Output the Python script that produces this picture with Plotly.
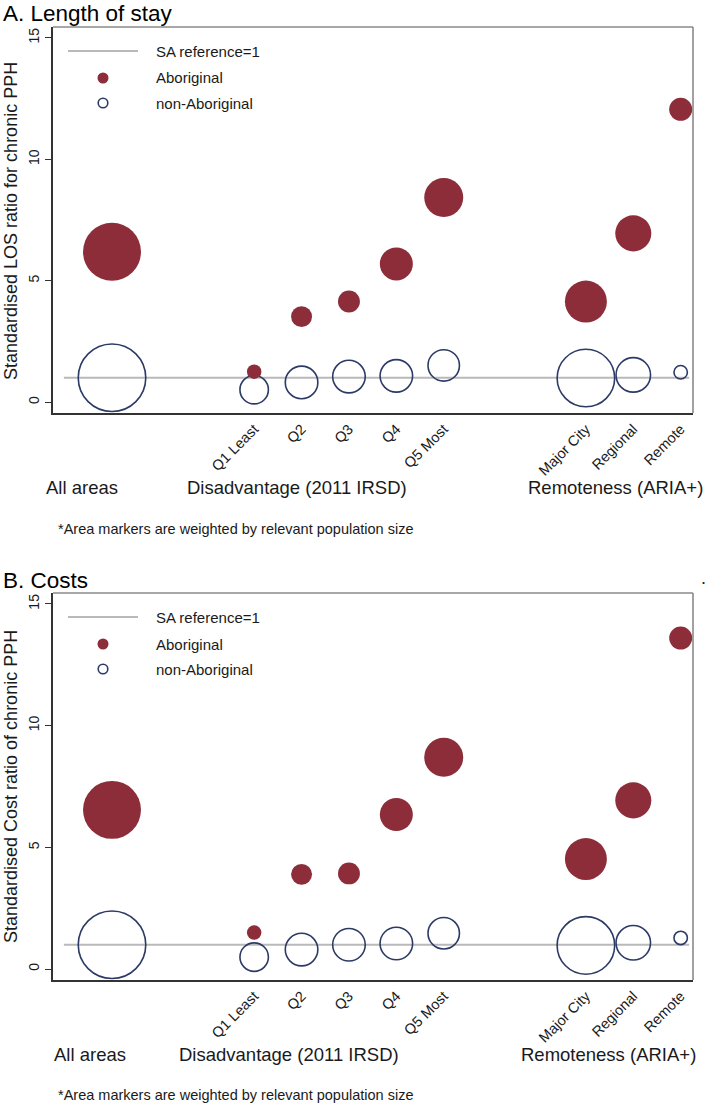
import plotly.graph_objects as go

# ---------------- data ----------------
categories = ["All areas", "Q1 Least", "Q2", "Q3", "Q4", "Q5 Most", "Major City", "Regional", "Remote"]
tick_categories = ["Q1 Least", "Q2", "Q3", "Q4", "Q5 Most", "Major City", "Regional", "Remote"]
group_labels = ["All areas", "Disadvantage (2011 IRSD)", "Remoteness (ARIA+)"]

los_aboriginal = [6.19, 1.25, 3.52, 4.14, 5.69, 8.43, 4.14, 6.95, 12.06]
los_non_aboriginal = [1.0, 0.51, 0.81, 1.05, 1.08, 1.51, 0.99, 1.12, 1.23]

cost_aboriginal = [6.54, 1.50, 3.89, 3.93, 6.35, 8.70, 4.52, 6.93, 13.6]
cost_non_aboriginal = [1.0, 0.49, 0.80, 1.0, 1.05, 1.47, 0.97, 1.08, 1.28]

# relative population weights (marker area)
pop_aboriginal = [33.6, 2.1, 4.4, 4.8, 10.9, 15.2, 17.6, 13.0, 5.3]
pop_non_aboriginal = [45.6, 8.1, 10.6, 10.6, 10.6, 9.9, 33.1, 11.9, 1.8]

sa_reference = 1

# ---------------- layout helpers ----------------
W, H = 708, 1104
x_slots = [0, 3, 4, 5, 6, 7, 10, 11, 12]  # axis slot of each category (gaps between groups)


def px(x):
    return x / W


def py(y):
    return 1 - y / H


ABO = "#8c2d39"
NON = "#2c3a66"
REF = "#b9b9b9"
TXT = "#1a1a1a"
FONT = "Liberation Sans, Arial, sans-serif"

fig = go.Figure()

panels = [
    dict(xa="x", ya="y", ab=los_aboriginal, nab=los_non_aboriginal, dy=0),
    dict(xa="x2", ya="y2", ab=cost_aboriginal, nab=cost_non_aboriginal, dy=566),
]

for p in panels:
    fig.add_trace(go.Scatter(
        x=x_slots, y=p["nab"], mode="markers", xaxis=p["xa"], yaxis=p["ya"],
        name="non-Aboriginal", showlegend=False, text=categories,
        marker=dict(size=pop_non_aboriginal, sizemode="area", sizeref=0.02, opacity=1,
                    color="rgba(0,0,0,0)", line=dict(color=NON, width=1.6)),
    ))
    fig.add_trace(go.Scatter(
        x=x_slots, y=p["ab"], mode="markers", xaxis=p["xa"], yaxis=p["ya"],
        name="Aboriginal", showlegend=False, text=categories,
        marker=dict(size=pop_aboriginal, sizemode="area", sizeref=0.02, opacity=1,
                    color=ABO, line=dict(width=0)),
    ))

shapes = []
annotations = []

xdom = [px(53), px(693)]
ydomA = [py(413), py(27)]
ydomB = [py(980), py(593)]

axis_common_x = dict(
    range=[-1.245, 12.26], showgrid=False, zeroline=False, showline=True,
    linecolor="#333333", linewidth=2, ticks="", tickangle=-45,
    tickvals=x_slots[1:], ticktext=tick_categories,
    tickfont=dict(family=FONT, size=14.5, color=TXT),
    domain=xdom, fixedrange=True,
)
axis_common_y = dict(
    range=[-0.45, 15.45], showgrid=False, zeroline=False, showline=True,
    linecolor="#333333", linewidth=2, ticks="outside", ticklen=6,
    tickcolor="#333333", tickwidth=1.2, tickvals=[0, 5, 10, 15],
    tickangle=-90, tickfont=dict(family=FONT, size=14, color=TXT),
    fixedrange=True,
)

ytitles = ["Standardised LOS ratio for chronic PPH", "Standardised Cost ratio of chronic PPH"]
titles = ["A. Length of stay", "B. Costs"]
group_x = [[44, 185, 526], [52, 177, 519]]

for i, p in enumerate(panels):
    dy = p["dy"]
    xr = "x domain" if i == 0 else "x2 domain"
    yr = "y domain" if i == 0 else "y2 domain"
    yd = "y" if i == 0 else "y2"
    # top / right frame
    shapes.append(dict(type="line", xref=xr, yref=yr, x0=0, x1=1, y0=1, y1=1,
                       line=dict(color="#8a8a8a", width=1.6)))
    shapes.append(dict(type="line", xref=xr, yref=yr, x0=1, x1=1, y0=0, y1=1,
                       line=dict(color="#8a8a8a", width=1.6)))
    # SA reference line
    shapes.append(dict(type="line", xref=xr, yref=yd, x0=0.017, x1=0.994,
                       y0=sa_reference, y1=sa_reference, layer="below",
                       line=dict(color=REF, width=2)))
    # legend
    shapes.append(dict(type="line", xref="paper", yref="paper",
                       x0=px(68), x1=px(138), y0=py(51 + dy), y1=py(51 + dy),
                       line=dict(color=REF, width=2)))
    r = 5.5
    shapes.append(dict(type="circle", xref="paper", yref="paper",
                       x0=px(103 - r), x1=px(103 + r), y0=py(78 + dy + r), y1=py(78 + dy - r),
                       fillcolor=ABO, line=dict(width=0)))
    r = 4.8
    shapes.append(dict(type="circle", xref="paper", yref="paper",
                       x0=px(103 - r), x1=px(103 + r), y0=py(103 + dy + r), y1=py(103 + dy - r),
                       fillcolor="rgba(0,0,0,0)", line=dict(color=NON, width=1.6)))
    for txt, yy in [("SA reference=1", 51), ("Aboriginal", 78), ("non-Aboriginal", 103)]:
        annotations.append(dict(text=txt, xref="paper", yref="paper", x=px(154), y=py(yy + dy),
                                xanchor="left", yanchor="middle", showarrow=False,
                                font=dict(family=FONT, size=15, color=TXT)))
    # panel title
    annotations.append(dict(text=titles[i], xref="paper", yref="paper", x=px(1), y=py(14 + dy),
                            xanchor="left", yanchor="middle", showarrow=False,
                            font=dict(family=FONT, size=22.5, color="#000000")))
    # y-axis title
    annotations.append(dict(text=ytitles[i], xref="paper", yref="paper", x=px(11),
                            y=py(221 + dy), textangle=-90, xanchor="center", yanchor="middle",
                            showarrow=False, font=dict(family=FONT, size=18, color=TXT)))
    # group labels
    for g, gx in zip(group_labels, group_x[i]):
        annotations.append(dict(text=g, xref="paper", yref="paper", x=px(gx), y=py(488 + dy),
                                xanchor="left", yanchor="middle", showarrow=False,
                                font=dict(family=FONT, size=18.5, color=TXT)))
    # footnote
    annotations.append(dict(text="*Area markers are weighted by relevant population size",
                            xref="paper", yref="paper", x=px(56), y=py(529 + dy),
                            xanchor="left", yanchor="middle", showarrow=False,
                            font=dict(family=FONT, size=14.5, color=TXT)))

annotations.append(dict(text=".", xref="paper", yref="paper", x=px(703), y=py(578),
                        xanchor="center", yanchor="middle", showarrow=False,
                        font=dict(family=FONT, size=18, color=TXT)))

fig.update_layout(
    width=W, height=H, margin=dict(l=0, r=0, t=0, b=0),
    paper_bgcolor="white", plot_bgcolor="white", showlegend=False,
    xaxis=dict(axis_common_x, anchor="y"),
    yaxis=dict(axis_common_y, domain=ydomA, anchor="x"),
    xaxis2=dict(axis_common_x, anchor="y2"),
    yaxis2=dict(axis_common_y, domain=ydomB, anchor="x2"),
    shapes=shapes, annotations=annotations,
)

fig.write_html(
    "out.html",
    config={"displayModeBar": False},
    post_script="document.body.style.margin='0';document.body.style.padding='0';"
                "document.documentElement.style.overflow='hidden';",
)
